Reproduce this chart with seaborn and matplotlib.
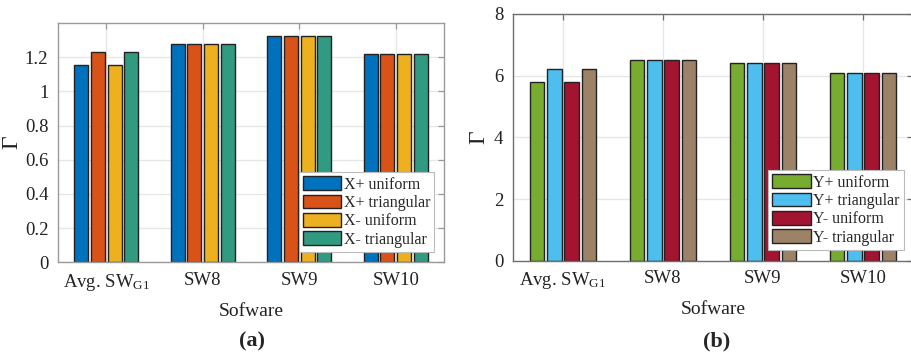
import numpy as np
import pandas as pd
import matplotlib
matplotlib.use("Agg")
import matplotlib.pyplot as plt
import seaborn as sns

# Software categories on the x axis
categories = ["Avg. SW$_{\\mathrm{G1}}$", "SW8", "SW9", "SW10"]

# Panel (a): X direction
x_series = ["X+ uniform", "X+ triangular", "X- uniform", "X- triangular"]
x_plus_uniform = [1.155, 1.278, 1.325, 1.22]
x_plus_triangular = [1.228, 1.278, 1.325, 1.22]
x_minus_uniform = [1.155, 1.278, 1.325, 1.22]
x_minus_triangular = [1.228, 1.278, 1.325, 1.22]
x_colors = ["#0072BD", "#D95319", "#EDB120", "#319B82"]

# Panel (b): Y direction
y_series = ["Y+ uniform", "Y+ triangular", "Y- uniform", "Y- triangular"]
y_plus_uniform = [5.8, 6.5, 6.4, 6.1]
y_plus_triangular = [6.2, 6.5, 6.4, 6.1]
y_minus_uniform = [5.8, 6.5, 6.4, 6.1]
y_minus_triangular = [6.2, 6.5, 6.4, 6.1]
y_colors = ["#77AC30", "#4DBEEE", "#A2142F", "#9C8266"]

x_ticks = [0, 0.2, 0.4, 0.6, 0.8, 1, 1.2]
x_ticklabels = ["0", "0.2", "0.4", "0.6", "0.8", "1", "1.2"]
y_ticks = [0, 2, 4, 6, 8]
y_ticklabels = ["0", "2", "4", "6", "8"]

sns.set_theme(style="white")
plt.rcParams["font.family"] = ["Liberation Serif", "DejaVu Serif"]
plt.rcParams["mathtext.fontset"] = "custom"
plt.rcParams["mathtext.rm"] = "Liberation Serif"
plt.rcParams["mathtext.it"] = "Liberation Serif:italic"


def long_frame(series_names, columns):
    rows = []
    for name, vals in zip(series_names, columns):
        for cat, v in zip(categories, vals):
            rows.append({"Sofware": cat, "series": name, "value": v})
    return pd.DataFrame(rows)


df_x = long_frame(x_series, [x_plus_uniform, x_plus_triangular,
                             x_minus_uniform, x_minus_triangular])
df_y = long_frame(y_series, [y_plus_uniform, y_plus_triangular,
                             y_minus_uniform, y_minus_triangular])

fig = plt.figure(figsize=(9.11, 3.54), dpi=100)
ax_a = fig.add_axes([0.0637, 0.259, 0.4237, 0.676])
ax_b = fig.add_axes([0.5631, 0.2636, 0.4390, 0.697])


def draw_panel(ax, df, series_names, colors, ylim, ticks, ticklabels,
               spine_color, legend_anchor, ylabel_x):
    sns.barplot(data=df, x="Sofware", y="value", hue="series",
                order=categories, hue_order=series_names,
                palette=dict(zip(series_names, colors)),
                width=0.69, gap=0.16, edgecolor="#222222", linewidth=1.0,
                saturation=1, errorbar=None, ax=ax)
    ax.set_xlim(-0.5, 3.5)
    ax.set_ylim(*ylim)
    ax.set_yticks(ticks)
    ax.set_yticklabels(ticklabels)
    ax.set_axisbelow(True)
    ax.grid(True, color="#e6e6e6", linewidth=0.9)
    for s in ax.spines.values():
        s.set_visible(True)
        s.set_color(spine_color)
        s.set_linewidth(1.0)
    ax.tick_params(axis="both", direction="in", length=4, width=0.9,
                   color=spine_color, labelsize=13.5, labelcolor="#222222",
                   top=True, right=True, pad=7)
    ax.set_xlabel("Sofware", fontsize=14, color="#222222", labelpad=7)
    ax.set_ylabel("Γ", fontsize=17, color="#222222")
    ax.yaxis.set_label_coords(ylabel_x, 0.5)
    sns.move_legend(ax, "lower right", bbox_to_anchor=legend_anchor,
                    title=None, fontsize=11.5, frameon=True, fancybox=False,
                    framealpha=1, edgecolor="#bbbbbb", borderpad=0.25,
                    labelspacing=0.12, handlelength=2.4, handleheight=0.95,
                    handletextpad=0.15, borderaxespad=0)
    leg = ax.get_legend()
    leg.get_frame().set_linewidth(0.8)
    for h in leg.legend_handles:
        h.set_edgecolor("#222222")
        h.set_linewidth(1.0)


draw_panel(ax_a, df_x, x_series, x_colors, (0, 1.4), x_ticks, x_ticklabels,
           "#9a9a9a", (0.975, 0.045), -0.093)
draw_panel(ax_b, df_y, y_series, y_colors, (0, 8), y_ticks, y_ticklabels,
           "#6e6e6e", (0.9765, 0.045), -0.058)

fig.text(0.2767, 0.035, "(a)", ha="center", va="center",
         fontsize=16, fontweight="bold")
fig.text(0.787, 0.035, "(b)", ha="center", va="center",
         fontsize=16, fontweight="bold")

fig.savefig("out.png", dpi=100)
